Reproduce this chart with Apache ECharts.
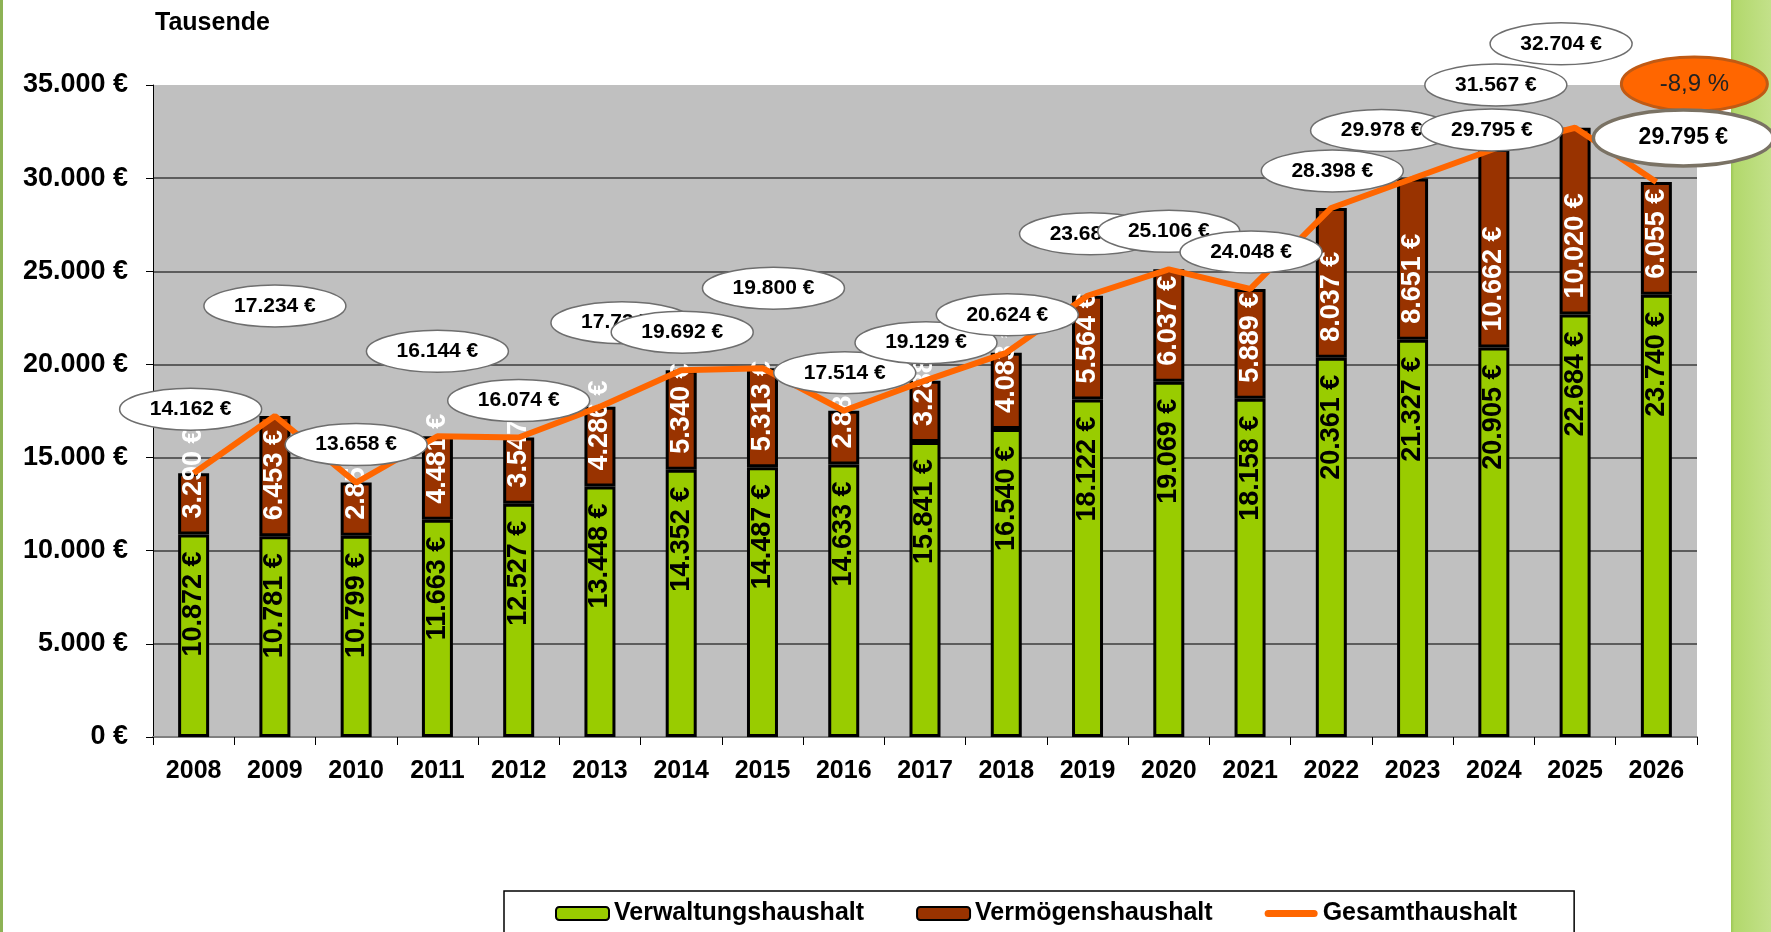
<!DOCTYPE html>
<html>
<head>
<meta charset="utf-8">
<script src="https://cdn.jsdelivr.net/npm/echarts@6/dist/echarts.min.js"></script>
<style>
  html, body { margin: 0; padding: 0; background: #fff; }
  #chart { width: 1771px; height: 932px; }
</style>
</head>
<body>
<div id="chart"></div>
<script>
// Haushalt in Tausend Euro
const years = ['2008', '2009', '2010', '2011', '2012', '2013', '2014', '2015', '2016', '2017',
  '2018', '2019', '2020', '2021', '2022', '2023', '2024', '2025', '2026'];
const verwaltung = [10872, 10781, 10799, 11663, 12527, 13448, 14352, 14487, 14633, 15841,
  16540, 18122, 19069, 18158, 20361, 21327, 20905, 22684, 23740];
const vermoegen = [3290, 6453, 2859, 4481, 3547, 4286, 5340, 5313, 2881, 3288,
  4083, 5564, 6037, 5889, 8037, 8651, 10662, 10020, 6055];
const gesamt = [14162, 17234, 13658, 16144, 16074, 17734, 19692, 19800, 17514, 19129,
  20624, 23686, 25106, 24048, 28398, 29978, 31567, 32704, 29795];
// extra call-out (left over near 2024) and change note for 2026
const extraYear = '2024';
const extraValue = 29795;
const changeText = '-8,9 %';

// call-out placement relative to the line point (pixels)
const bubbleOffsets = [[-3, -64], [0, -110], [0, -38], [0, -85], [0, -37], [22, -84], [1, -38],
  [11, -80], [1, -38], [1, -38], [1, -38], [3, -62], [0, -38], [1, -37], [1, -37], [-31, -48],
  [2, -64], [-14, -84], [27, -44]];
const extraOffset = [-2, -52];
const changeOffset = [38, -98];

const FONT = '"Liberation Sans", Arial, sans-serif';
const LINE_ICON = 'path://M3.5,0 L49.5,0 A3.5,3.5 0 0 1 49.5,7 L3.5,7 A3.5,3.5 0 0 1 3.5,0 Z';

function fmt(v) {
  return String(v).replace(/\B(?=(\d{3})+(?!\d))/g, '.') + ' €';
}

// draw order of the call-outs (later ones on top)
const bubbles = [];
[0, 1, 2, 3, 4, 5, 6, 7, 8, 9, 10, 11, 12, 13, 14, 15, 17, 16].forEach(function (i) {
  bubbles.push({ cat: i, value: gesamt[i], text: fmt(gesamt[i]), off: bubbleOffsets[i], kind: 'normal' });
});
bubbles.push({ cat: years.indexOf(extraYear), value: extraValue, text: fmt(extraValue), off: extraOffset, kind: 'normal' });
bubbles.push({ cat: 18, value: gesamt[18], text: changeText, off: changeOffset, kind: 'change' });
bubbles.push({ cat: 18, value: gesamt[18], text: fmt(gesamt[18]), off: bubbleOffsets[18], kind: 'last' });

const bubbleStyle = {
  normal: { rx: 71, ry: 21, fill: '#fff', stroke: '#6e6e6e', lw: 1.5, font: 'bold 21px ' + FONT, color: '#000' },
  last: { rx: 90, ry: 28, fill: '#fff', stroke: '#7a7264', lw: 3.5, font: 'bold 23px ' + FONT, color: '#000' },
  change: { rx: 73, ry: 27, fill: '#FF6600', stroke: '#C05A14', lw: 3, font: '24px ' + FONT, color: '#222' }
};

const chart = echarts.init(document.getElementById('chart'));

chart.setOption({
  animation: false,
  backgroundColor: '#fff',
  textStyle: { fontFamily: FONT },
  title: {
    text: 'Tausende',
    left: 150,
    top: 6,
    textStyle: { fontSize: 25, fontWeight: 'bold', color: '#000', fontFamily: FONT }
  },
  graphic: [
    { type: 'rect', left: 0, top: 0, z: -1, shape: { width: 3, height: 932 }, style: { fill: '#8DB255' } },
    {
      type: 'rect', left: 1731, top: 0, z: -1, shape: { width: 40, height: 932 },
      style: {
        fill: new echarts.graphic.LinearGradient(0, 0, 1, 0, [
          { offset: 0, color: '#9CC656' }, { offset: 0.08, color: '#B2D86C' }, { offset: 1, color: '#C3E18A' }
        ])
      }
    }
  ],
  grid: {
    left: 153, right: 74, top: 85, bottom: 195,
    containLabel: false,
    show: true, backgroundColor: '#C0C0C0', borderWidth: 0
  },
  legend: {
    data: [
      { name: 'Verwaltungshaushalt' },
      { name: 'Vermögenshaushalt' },
      { name: 'Gesamthaushalt', icon: LINE_ICON }
    ],
    left: 504, top: 891,
    padding: [10, 57, 40, 51],
    borderColor: '#000', borderWidth: 1.5,
    itemWidth: 53, itemHeight: 13, itemGap: 52,
    textStyle: { fontSize: 25, fontWeight: 'bold', color: '#000', fontFamily: FONT }
  },
  xAxis: {
    type: 'category',
    data: years,
    axisLine: { lineStyle: { color: '#808080', width: 2 } },
    axisTick: { show: true, length: 8, lineStyle: { color: '#000', width: 1 } },
    axisLabel: { fontSize: 25, fontWeight: 'bold', color: '#000', margin: 22, fontFamily: FONT }
  },
  yAxis: {
    type: 'value',
    min: 0, max: 35000, interval: 5000,
    axisLine: { show: true, lineStyle: { color: '#000', width: 1 } },
    axisTick: { show: true, length: 7, lineStyle: { color: '#000' } },
    axisLabel: { fontSize: 27, fontWeight: 'bold', color: '#000', margin: 25, formatter: fmt, fontFamily: FONT },
    splitLine: {
      lineStyle: {
        width: 1.5,
        color: ['rgba(0,0,0,0)', '#3c3c3c', '#3c3c3c', '#3c3c3c', '#3c3c3c', '#3c3c3c', '#3c3c3c', 'rgba(0,0,0,0)']
      }
    }
  },
  series: [
    {
      name: 'Verwaltungshaushalt',
      type: 'bar',
      stack: 'haushalt',
      data: verwaltung,
      barWidth: 31,
      itemStyle: { color: '#99CC00', borderColor: '#000', borderWidth: 3 },
      label: {
        show: true, position: 'insideTop', distance: 17, rotate: 90,
        align: 'right', verticalAlign: 'middle',
        color: '#000', fontSize: 27, fontWeight: 'bold', textBorderWidth: 0, fontFamily: FONT,
        formatter: function (p) { return fmt(p.value); }
      }
    },
    {
      name: 'Vermögenshaushalt',
      type: 'bar',
      stack: 'haushalt',
      data: vermoegen,
      barWidth: 31,
      itemStyle: { color: '#993300', borderColor: '#000', borderWidth: 3 },
      label: {
        show: true, position: 'insideBottom', distance: 16, rotate: 90,
        align: 'left', verticalAlign: 'middle',
        color: '#fff', fontSize: 27, fontWeight: 'bold', textBorderWidth: 0, fontFamily: FONT,
        formatter: function (p) { return fmt(p.value); }
      }
    },
    {
      name: 'Gesamthaushalt',
      type: 'line',
      data: gesamt,
      symbol: 'none',
      lineStyle: { color: '#FF6600', width: 6 },
      itemStyle: { color: '#FF6600' }
    },
    {
      name: 'callouts',
      type: 'custom',
      z: 10,
      data: bubbles.map(function (b) { return [b.cat, b.value]; }),
      renderItem: function (params, api) {
        const b = bubbles[params.dataIndex];
        const s = bubbleStyle[b.kind];
        const p = api.coord([api.value(0), api.value(1)]);
        const cx = p[0] + b.off[0];
        const cy = p[1] + b.off[1];
        return {
          type: 'group',
          children: [
            {
              type: 'ellipse',
              shape: { cx: cx, cy: cy, rx: s.rx, ry: s.ry },
              style: { fill: s.fill, stroke: s.stroke, lineWidth: s.lw }
            },
            {
              type: 'text',
              style: {
                x: cx, y: cy, text: b.text, fill: s.color, font: s.font,
                align: 'center', verticalAlign: 'middle'
              }
            }
          ]
        };
      }
    }
  ]
});
</script>
</body>
</html>
